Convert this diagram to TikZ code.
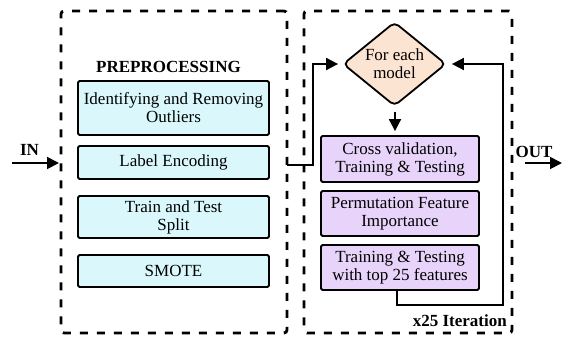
\documentclass[tikz,border=0pt]{standalone}
\usepackage{fontspec}
\setmainfont{LiberationSerif}[Extension=.ttf,UprightFont=*-Regular,BoldFont=*-Bold,ItalicFont=*-Italic,BoldItalicFont=*-BoldItalic]
\usetikzlibrary{arrows.meta,shapes.geometric}
\definecolor{cyanfill}{RGB}{218,248,252}
\definecolor{purplefill}{RGB}{232,212,250}
\definecolor{peachfill}{RGB}{252,228,210}
\begin{document}
\begin{tikzpicture}[x=1pt,y=-1pt,
  font=\fontsize{17}{18}\selectfont,
  dashbox/.style={draw, line width=2.8pt, dash pattern=on 8pt off 9pt, rounded corners=3pt, inner sep=0pt, minimum height=322pt},
  prebox/.style={draw, line width=1.8pt, fill=cyanfill, rounded corners=1.5pt, minimum width=191pt, inner sep=0pt, align=center},
  modbox/.style={draw, line width=1.8pt, fill=purplefill, rounded corners=1.5pt, minimum width=158pt, minimum height=45pt, inner sep=0pt, align=center},
  decision/.style={draw, line width=1.8pt, fill=peachfill, shape=diamond, aspect=1.23, rounded corners=5pt, inner sep=0pt, minimum width=103pt, minimum height=84pt, align=center},
  conn/.style={line width=1.8pt},
  arr/.style={conn, -{Triangle[length=12pt,width=12pt]}},
  lbl/.style={font=\fontsize{17}{18}\selectfont\bfseries, inner sep=0pt}]
\useasboundingbox (0,0) rectangle (562,338);

% dashed containers
\node[dashbox, minimum width=226pt] (pre) at (174,172) {};
\node[dashbox, minimum width=208pt] (mod) at (408,172) {};

% left column
\node[lbl] (prelbl) at (168.5,67) {PREPROCESSING};
\node[prebox, minimum height=54pt] (b1) at (173.5,108) {Identifying and Removing\\Outliers};
\node[prebox, minimum height=33pt] (b2) at (173.5,162.5) {Label Encoding};
\node[prebox, minimum height=42pt] (b3) at (173.5,217) {Train and Test\\Split};
\node[prebox, minimum height=32pt] (b4) at (173.5,271) {SMOTE};

% right column
\node[decision] (dec) at (394.5,64) {For each\\model};
\node[modbox, minimum height=46pt] (p1) at (400,159) {Cross validation,\\Training \& Testing};
\node[modbox] (p2) at (400,213.5) {Permutation Feature\\Importance};
\node[modbox] (p3) at (400,267.5) {Training \& Testing\\with top 25 features};
\node[lbl, anchor=east] (iter) at (507,321) {x25 Iteration};

% in / out
\coordinate (inS) at (12,163);
\coordinate (inE) at (59,163);
\node[lbl] (inlbl) at (29.5,150) {IN};
\coordinate (outS) at (525,163);
\coordinate (outE) at (562,163);
\node[lbl] (outlbl) at (534,152) {OUT};
\draw[arr] (inS) -- (inE);
\draw[arr] (outS) -- (outE);

% connectors
\coordinate (cA) at (287,165);
\draw[arr, shorten >=4pt] (cA) -| (313,64) -- (dec.west);
\draw[arr, shorten <=5pt, shorten >=4pt] (dec.south -| 395,0) -- (p1.north -| 395,0);
\coordinate (lp) at (397,290);
\draw[arr, shorten >=5pt] (lp) |- (503,305) |- (dec.east);
\end{tikzpicture}
\end{document}
